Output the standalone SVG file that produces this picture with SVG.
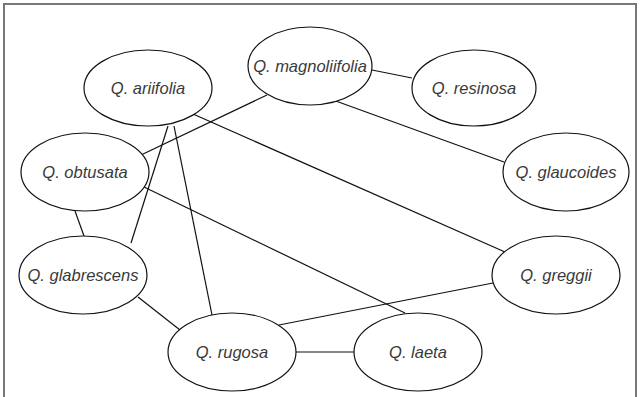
<svg xmlns="http://www.w3.org/2000/svg" width="640" height="397" viewBox="0 0 640 397">
<style>
.n ellipse{fill:#fff;stroke:#111;stroke-width:1.2}
.n text{font-family:"Liberation Sans",Arial,sans-serif;font-style:italic;font-size:16.5px;fill:#3a3a3a;text-anchor:middle;dominant-baseline:central}
.e line{stroke:#111;stroke-width:1.2}
</style>
<rect x="4" y="4" width="632" height="400" fill="#fff" stroke="#777" stroke-width="2"/>
<g class="e" id="connectors">
<line x1="372" y1="70" x2="412" y2="78"/>
<line x1="333" y1="100" x2="504" y2="162"/>
<line x1="267" y1="95" x2="141" y2="155"/>
<line x1="193" y1="114" x2="505" y2="252"/>
<line x1="168" y1="126" x2="131" y2="243"/>
<line x1="174" y1="126" x2="212" y2="315"/>
<line x1="144" y1="187" x2="405" y2="313"/>
<line x1="75" y1="211" x2="84" y2="236"/>
<line x1="138" y1="297" x2="180" y2="330"/>
<line x1="493" y1="283" x2="279" y2="325"/>
<line x1="296" y1="352" x2="355" y2="352"/>
</g>
<g class="n" id="ariifolia"><ellipse cx="148" cy="88" rx="64" ry="38"/><text x="148" y="88">Q. ariifolia</text></g>
<g class="n" id="magnoliifolia"><ellipse cx="310" cy="66" rx="62" ry="39"/><text x="310" y="66">Q. magnoliifolia</text></g>
<g class="n" id="resinosa"><ellipse cx="474" cy="88" rx="62" ry="38"/><text x="474" y="88">Q. resinosa</text></g>
<g class="n" id="obtusata"><ellipse cx="85" cy="172" rx="64" ry="39"/><text x="85" y="172">Q. obtusata</text></g>
<g class="n" id="glaucoides"><ellipse cx="566" cy="172" rx="63" ry="39"/><text x="566" y="172">Q. glaucoides</text></g>
<g class="n" id="glabrescens"><ellipse cx="83" cy="275" rx="64" ry="39"/><text x="83" y="275">Q. glabrescens</text></g>
<g class="n" id="greggii"><ellipse cx="556" cy="275" rx="64" ry="39"/><text x="556" y="275">Q. greggii</text></g>
<g class="n" id="rugosa"><ellipse cx="232" cy="352" rx="64" ry="39"/><text x="232" y="352">Q. rugosa</text></g>
<g class="n" id="laeta"><ellipse cx="418" cy="352" rx="64" ry="39"/><text x="418" y="352">Q. laeta</text></g>
</svg>
